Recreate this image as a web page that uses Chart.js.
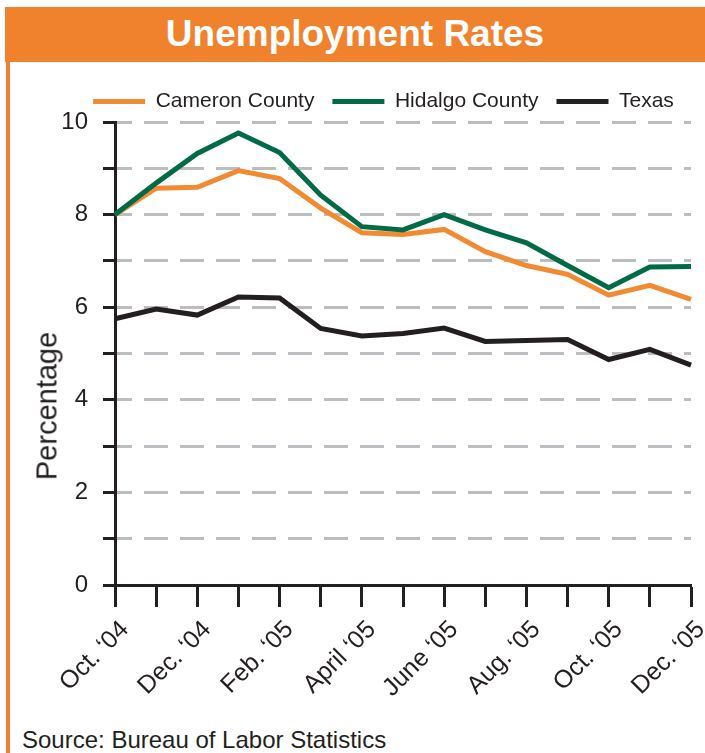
<!DOCTYPE html>
<html>
<head>
<meta charset="utf-8">
<title>Unemployment Rates</title>
<script src="https://cdn.jsdelivr.net/npm/chart.js@4.4.0/dist/chart.umd.min.js"></script>
<style>
  body { margin: 0; width: 705px; height: 753px; overflow: hidden; background: #fff;
         font-family: 'Liberation Sans', Arial, sans-serif; }
  #header { position: absolute; left: 5px; top: 7px; width: 700px; height: 55px; background: #f0822d;
            color: #fff; font-weight: bold; font-size: 37px; text-align: center; line-height: 54px; }
  #edge { position: absolute; left: 6px; top: 62px; width: 4px; height: 691px; background: #f0822d; }
  #wrap { position: absolute; left: 0; top: 62px; width: 705px; height: 650px; }
  #ylabel { position: absolute; left: 47px; top: 406px; transform: translate(-50%, -50%) rotate(-90deg);
            font-size: 29px; color: #231f20; white-space: nowrap; }
  #source { position: absolute; left: 22px; top: 726px; font-size: 24px; color: #231f20; }
</style>
</head>
<body>
<div id="header">Unemployment Rates</div>
<div id="edge"></div>
<div id="wrap"><canvas id="rates-chart"></canvas></div>
<div id="ylabel">Percentage</div>
<div id="source">Source: Bureau of Labor Statistics</div>
<script>
// months Oct '04 .. Dec '05, only every other one gets a label on the axis
let months = ['Oct. \u201804', 'Nov. \u201804', 'Dec. \u201804', 'Jan. \u201805', 'Feb. \u201805', 'March \u201805',
              'April \u201805', 'May \u201805', 'June \u201805', 'July \u201805', 'Aug. \u201805', 'Sept. \u201805',
              'Oct. \u201805', 'Nov. \u201805', 'Dec. \u201805']
let shownMonths = ['Oct. \u201804', 'Dec. \u201804', 'Feb. \u201805', 'April \u201805', 'June \u201805',
                   'Aug. \u201805', 'Oct. \u201805', 'Dec. \u201805']

// rates in percent
let cameron = [8.0, 8.57, 8.59, 8.95, 8.78, 8.14, 7.61, 7.57, 7.68, 7.2, 6.9, 6.71, 6.26, 6.47, 6.17]
let hidalgo = [8.0, 8.68, 9.32, 9.76, 9.34, 8.42, 7.74, 7.67, 8.0, 7.67, 7.39, 6.9, 6.42, 6.87, 6.88]
let texas = [5.75, 5.96, 5.83, 6.22, 6.2, 5.54, 5.38, 5.43, 5.55, 5.26, 5.28, 5.3, 4.87, 5.09, 4.75]

let yLabels = [0, 2, 4, 6, 8, 10]

let ink = '#231f20'
let orange = '#f28a31'
let green = '#006b45'

Chart.defaults.font.family = "'Liberation Sans', Arial, sans-serif"
Chart.defaults.color = ink

// legend sits a bit right of the canvas centre in the original
let legendShift = {
    id: 'legendShift',
    afterLayout: function(chart) {
        chart.legend.left += 38
        chart.legend.right += 38
    }
}

function series(label, data, color, order) {
    return {
        label: label,
        data: data,
        borderColor: color,
        backgroundColor: color,
        pointBorderColor: color,
        pointBackgroundColor: color,
        pointBorderWidth: 5,
        order: order
    }
}

let ctx = document.querySelector('#rates-chart').getContext('2d')

let ratesChart = new Chart(ctx, {
    type: 'line',
    data: {
        labels: months,
        datasets: [
            series('Cameron County', cameron, orange, 1),
            series('Hidalgo County', hidalgo, green, 0),
            series('Texas', texas, ink, 2)
        ]
    },
    plugins: [legendShift],
    options: {
        responsive: true,
        maintainAspectRatio: false,
        animation: false,
        elements: {
            line: { borderWidth: 5, tension: 0 },
            point: { radius: 0 }
        },
        layout: { padding: { top: 11, left: 0, right: 14, bottom: 0 } },
        plugins: {
            tooltip: { enabled: false },
            legend: {
                position: 'top',
                labels: {
                    usePointStyle: true,
                    pointStyle: 'line',
                    pointStyleWidth: 52,
                    padding: 18,
                    color: ink,
                    font: { size: 21 },
                    sort: (a, b) => a.datasetIndex - b.datasetIndex
                }
            }
        },
        scales: {
            x: {
                offset: false,
                afterFit: function(scale) {
                    scale.height = 127
                    scale.paddingLeft = 0
                    scale.paddingRight = 0
                },
                grid: { drawOnChartArea: false, drawTicks: true, tickLength: 22, tickColor: ink, tickWidth: 3 },
                border: { display: true, color: ink, width: 3 },
                ticks: {
                    autoSkip: false,
                    maxRotation: 45,
                    minRotation: 45,
                    padding: 8,
                    labelOffset: 10,
                    font: { size: 25 },
                    color: ink,
                    callback: function(value, index) {
                        return shownMonths.includes(months[index]) ? months[index] : ''
                    }
                }
            },
            y: {
                min: 0,
                max: 10,
                afterFit: function(scale) { scale.width = 115 },
                grid: { color: '#bcbdc0', lineWidth: 3, tickLength: 12, tickColor: ink, tickWidth: 3, tickBorderDash: [] },
                border: { display: true, color: ink, width: 3, dash: [24, 12], dashOffset: 9 },
                ticks: {
                    stepSize: 1,
                    padding: 15,
                    font: { size: 24 },
                    color: ink,
                    callback: function(value) { return yLabels.includes(value) ? value : '' }
                }
            }
        }
    }
})
</script>
</body>
</html>
